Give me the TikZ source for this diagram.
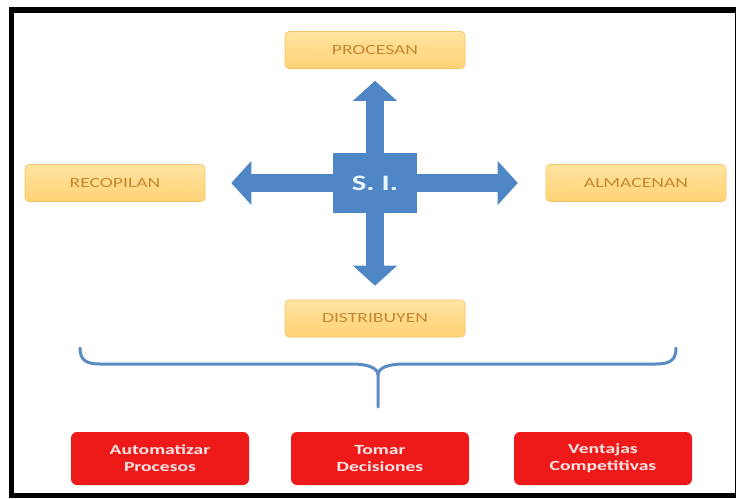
\documentclass[tikz,border=0pt]{standalone}
\usepackage{fontspec}
\usepackage{graphicx}
\setmainfont{Carlito}
\usetikzlibrary{arrows.meta}

\definecolor{yelTop}{HTML}{FFE4A0}
\definecolor{yelBot}{HTML}{FFD275}
\definecolor{yelEdge}{HTML}{F3C566}
\definecolor{yelText}{HTML}{C8872F}
\definecolor{blueA}{HTML}{4E86C6}
\definecolor{blueBrace}{HTML}{5B8BC4}
\definecolor{siText}{HTML}{E8F4FF}
\definecolor{redFill}{HTML}{EE1A1A}
\definecolor{redText}{HTML}{FFE6E6}

% widened lettering
\newcommand{\widetxt}[1]{\scalebox{1.4}[1]{#1}}

\tikzset{
  yellowbox/.style={rounded corners=4pt, minimum width=180pt, minimum height=37pt,
    inner sep=0pt, top color=yelTop, bottom color=yelBot, draw=yelEdge, line width=0.6pt,
    text=yelText, font=\fontsize{14}{16}\selectfont},
  redbox/.style={rounded corners=6pt, minimum width=178pt, minimum height=53pt,
    inner sep=0pt, fill=redFill, text=redText, align=center,
    font=\bfseries\fontsize{14}{17}\selectfont},
  sibox/.style={fill=blueA, minimum width=84pt, minimum height=60pt, inner sep=0pt,
    text=siText, font=\bfseries\fontsize{22}{24}\selectfont},
  bigarrow/.style={draw=blueA, line width=18pt,
    -{Triangle[length=20pt,width=44pt,line width=0pt]}},
  brace/.style={draw=blueBrace, line width=3pt, line cap=round}
}

\begin{document}
\begin{tikzpicture}[x=1pt,y=-1pt]
\useasboundingbox (0,0) rectangle (738,498);
\fill[white] (0,0) rectangle (738,498);

% outer frame
\draw[line width=5.5pt] (11.5,7) -- (11.5,498);
\draw[line width=5.5pt] (9,9.75) -- (736,9.75);
\draw[line width=1.2pt] (735.3,9) -- (735.3,496);
\draw[line width=5pt] (9,495.5) -- (736,495.5);

% central node and the four actions
\node[sibox] (si) at (375,183) {\widetxt{S. I.}};
\node[yellowbox] (proc) at (375,50) {\widetxt{PROCESAN}};
\node[yellowbox] (reco) at (115,183) {\widetxt{RECOPILAN}};
\node[yellowbox] (alm) at (636,183) {\widetxt{ALMACENAN}};
\node[yellowbox] (dist) at (375,318.5) {\widetxt{DISTRIBUYEN}};

% thick arrows out of the centre
\draw[bigarrow, shorten >=12pt] (si.north) -- (proc.south);
\draw[bigarrow, shorten >=14pt] (si.south) -- (dist.north);
\draw[bigarrow, shorten >=26pt] (si.west) -- (reco.east);
\draw[bigarrow, shorten >=28pt] (si.east) -- (alm.west);

% curly brace
\draw[brace] (80,348) .. controls (80,360) and (86,364) .. (100,364) -- (352,364)
  .. controls (368,364) and (378,368) .. (378,375) -- (378,407);
\draw[brace] (676,348) .. controls (676,360) and (670,364) .. (656,364) -- (404,364)
  .. controls (388,364) and (378,368) .. (378,375);

% results
\node[redbox] (auto) at (160,458.5) {\widetxt{Automatizar}\\\widetxt{Procesos}};
\node[redbox] (tomar) at (380,458.5) {\widetxt{Tomar}\\\widetxt{Decisiones}};
\node[redbox] (vent) at (603,458.5) {\widetxt{Ventajas}\\\widetxt{Competitivas}};
\end{tikzpicture}
\end{document}
